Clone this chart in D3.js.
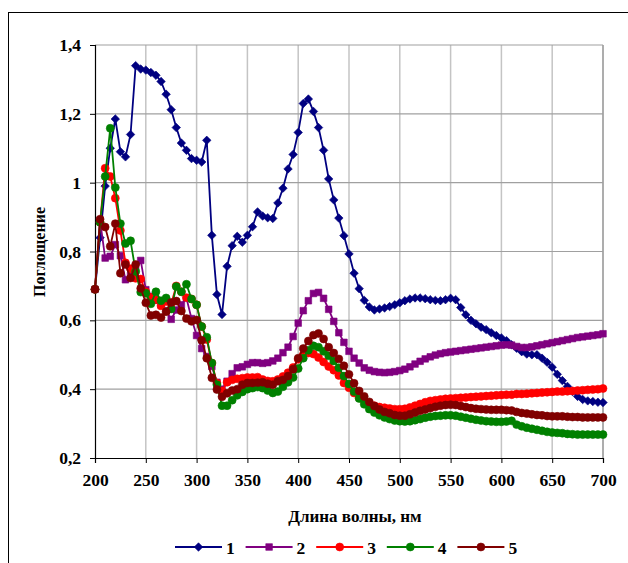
<!DOCTYPE html>
<html>
<head>
<meta charset="utf-8">
<script src="https://cdn.jsdelivr.net/npm/d3@7"></script>
<style>
  body { margin: 0; background: #fff; }
  text { font-family: "Liberation Serif", "Times New Roman", serif; font-weight: bold; fill: #000; }
</style>
</head>
<body>
<div id="chart"></div>
<script>
var margin = {left: 95, top: 45, right: 25, bottom: 105},
    width = 628 - margin.left - margin.right,
    height = 563 - margin.top - margin.bottom;

var wavelengths = [200, 205, 210, 215, 220, 225, 230, 235, 240, 245,
    250, 255, 260, 265, 270, 275, 280, 285, 290, 295,
    300, 305, 310, 315, 320, 325, 330, 335, 340, 345,
    350, 355, 360, 365, 370, 375, 380, 385, 390, 395,
    400, 405, 410, 415, 420, 425, 430, 435, 440, 445,
    450, 455, 460, 465, 470, 475, 480, 485, 490, 495,
    500, 505, 510, 515, 520, 525, 530, 535, 540, 545,
    550, 555, 560, 565, 570, 575, 580, 585, 590, 595,
    600, 605, 610, 615, 620, 625, 630, 635, 640, 645,
    650, 655, 660, 665, 670, 675, 680, 685, 690, 695,
    700];

var s1 = [0.69, 0.84, 0.99, 1.10, 1.185, 1.09, 1.075, 1.14, 1.34, 1.33,
    1.327, 1.32, 1.312, 1.294, 1.257, 1.212, 1.16, 1.115, 1.094, 1.07,
    1.065, 1.06, 1.123, 0.847, 0.675, 0.617, 0.757, 0.817, 0.844, 0.827,
    0.847, 0.872, 0.915, 0.903, 0.898, 0.896, 0.941, 0.984, 1.04, 1.082,
    1.146, 1.23, 1.243, 1.207, 1.16, 1.094, 1.011, 0.95, 0.897, 0.846,
    0.793, 0.737, 0.692, 0.658, 0.639, 0.63, 0.633, 0.636, 0.64, 0.645,
    0.651, 0.657, 0.662, 0.665, 0.665, 0.663, 0.66, 0.658, 0.657, 0.66,
    0.664, 0.66, 0.637, 0.616, 0.6, 0.59, 0.58, 0.573, 0.564, 0.556,
    0.549, 0.541, 0.529, 0.519, 0.509, 0.502, 0.5, 0.5, 0.49, 0.478,
    0.464, 0.443, 0.425, 0.408, 0.393, 0.379, 0.37, 0.366, 0.364, 0.362,
    0.361];

var s2 = [0.69, 0.89, 0.781, 0.786, 0.82, 0.788, 0.718, 0.73, 0.745, 0.774,
    0.689, 0.67, 0.658, 0.645, 0.628, 0.603, 0.63, 0.645, 0.665, 0.605,
    0.556, 0.518, 0.495, 0.466, 0.42, 0.4, 0.423, 0.445, 0.462, 0.465,
    0.472, 0.477, 0.477, 0.475, 0.477, 0.482, 0.49, 0.506, 0.522, 0.553,
    0.592, 0.628, 0.657, 0.678, 0.681, 0.664, 0.632, 0.597, 0.564, 0.536,
    0.51, 0.49, 0.476, 0.462, 0.455, 0.451, 0.449, 0.448, 0.449, 0.451,
    0.454, 0.458, 0.465, 0.473, 0.481, 0.488, 0.494, 0.499, 0.503, 0.506,
    0.508, 0.51, 0.512, 0.514, 0.516, 0.518, 0.52, 0.522, 0.524, 0.526,
    0.528, 0.529, 0.528, 0.524, 0.521, 0.521, 0.523, 0.526, 0.529, 0.532,
    0.535, 0.538, 0.541, 0.544, 0.547, 0.55, 0.552, 0.554, 0.556, 0.558,
    0.561];

var s3 = [0.69, 0.885, 1.042, 1.018, 0.955, 0.861, 0.767, 0.75, 0.722, 0.72,
    0.683, 0.667, 0.66, 0.642, 0.655, 0.648, 0.7, 0.683, 0.666, 0.662,
    0.645, 0.582, 0.544, 0.476, 0.418, 0.395, 0.42, 0.427, 0.43, 0.432,
    0.434, 0.434, 0.435, 0.428, 0.424, 0.423, 0.428, 0.437, 0.448, 0.463,
    0.487, 0.5, 0.505, 0.502, 0.492, 0.479, 0.466, 0.455, 0.44, 0.418,
    0.404, 0.389, 0.375, 0.366, 0.358, 0.352, 0.348, 0.346, 0.344, 0.342,
    0.342, 0.343, 0.347, 0.352, 0.357, 0.362, 0.366, 0.368, 0.37, 0.372,
    0.373, 0.374, 0.375, 0.376, 0.377, 0.378, 0.379, 0.38, 0.381, 0.382,
    0.383, 0.384, 0.384, 0.386, 0.386, 0.387, 0.388, 0.389, 0.39, 0.391,
    0.392, 0.393, 0.393, 0.394, 0.395, 0.396, 0.397, 0.398, 0.399, 0.4,
    0.402];

var s4 = [0.69, 0.885, 1.018, 1.158, 0.986, 0.881, 0.823, 0.831, 0.742, 0.682,
    0.679, 0.648, 0.683, 0.657, 0.665, 0.633, 0.698, 0.683, 0.705, 0.662,
    0.645, 0.582, 0.551, 0.476, 0.413, 0.352, 0.352, 0.368, 0.382, 0.392,
    0.4, 0.403, 0.406, 0.403, 0.396, 0.389, 0.393, 0.407, 0.42, 0.434,
    0.46, 0.49, 0.513, 0.526, 0.522, 0.51, 0.497, 0.482, 0.462, 0.438,
    0.415, 0.393, 0.373, 0.356, 0.342, 0.332, 0.324, 0.318, 0.313, 0.309,
    0.307, 0.306, 0.307, 0.31, 0.313, 0.317, 0.32, 0.322, 0.323, 0.324,
    0.324, 0.323, 0.32, 0.317, 0.314, 0.311, 0.309, 0.307, 0.306, 0.305,
    0.305, 0.306, 0.308, 0.297, 0.292, 0.288, 0.285, 0.282, 0.279, 0.276,
    0.274, 0.273, 0.272, 0.27, 0.269, 0.268, 0.268, 0.268, 0.268, 0.268,
    0.268];

var s5 = [0.69, 0.894, 0.871, 0.815, 0.881, 0.737, 0.762, 0.723, 0.762, 0.693,
    0.651, 0.614, 0.616, 0.608, 0.625, 0.652, 0.656, 0.627, 0.605, 0.597,
    0.601, 0.542, 0.49, 0.433, 0.399, 0.378, 0.388, 0.396, 0.4, 0.413,
    0.418, 0.418, 0.419, 0.42, 0.416, 0.413, 0.423, 0.427, 0.438, 0.458,
    0.49, 0.518, 0.54, 0.557, 0.562, 0.546, 0.522, 0.505, 0.488, 0.468,
    0.443, 0.417, 0.395, 0.379, 0.363, 0.351, 0.341, 0.334, 0.33, 0.325,
    0.323, 0.323, 0.327, 0.332, 0.337, 0.341, 0.345, 0.349, 0.352, 0.354,
    0.355, 0.354, 0.351, 0.348, 0.345, 0.343, 0.342, 0.341, 0.34, 0.34,
    0.34, 0.339, 0.338, 0.334, 0.331, 0.329, 0.327, 0.325, 0.324, 0.322,
    0.321, 0.321, 0.321, 0.32, 0.319, 0.319, 0.318, 0.318, 0.318, 0.318,
    0.318];

var seriesNames = ['1', '2', '3', '4', '5'],
    seriesValues = [s1, s2, s3, s4, s5],
    colors = ['#000080', '#800080', '#ff0000', '#008000', '#800000'],
    markers = ['diamond', 'square', 'circle', 'circle', 'circle'];

var xTicks = [200, 250, 300, 350, 400, 450, 500, 550, 600, 650, 700],
    yTicks = [0.2, 0.4, 0.6, 0.8, 1.0, 1.2, 1.4];

var xTitle = 'Длина волны, нм',
    yTitle = 'Поглощение';

var svg = d3.select('#chart').append('svg')
    .attr('width', 628)
    .attr('height', 563);

// outer chart frame, runs off the right and bottom edges
svg.append('rect')
    .attr('x', 8.5).attr('y', 12.5)
    .attr('width', 700).attr('height', 700)
    .style('fill', 'none')
    .style('stroke', '#000');

var g = svg.append('g')
    .attr('transform', 'translate(' + margin.left + ',' + margin.top + ')');

var x = d3.scaleLinear().domain([200, 700]).range([0, width]);
var y = d3.scaleLinear().domain([0.2, 1.4]).range([height, 0]);

function fmt(v) { return (+v.toFixed(1)).toString().replace('.', ','); }

// grid
g.selectAll('line.vgrid')
    .data(xTicks.slice(1))
    .enter().append('line')
    .attr('class', 'vgrid')
    .attr('x1', function(d) { return x(d); }).attr('x2', function(d) { return x(d); })
    .attr('y1', 0).attr('y2', height)
    .style('stroke', '#c4c4c4')
    .style('stroke-width', 1.5);

g.selectAll('line.hgrid')
    .data(yTicks.slice(1))
    .enter().append('line')
    .attr('class', 'hgrid')
    .attr('x1', 0).attr('x2', width)
    .attr('y1', function(d) { return y(d); }).attr('y2', function(d) { return y(d); })
    .style('stroke', '#a0a0a0')
    .style('stroke-width', 1.2);

g.append('line')
    .attr('x1', width).attr('x2', width).attr('y1', 0).attr('y2', height)
    .style('stroke', '#a0a0a0').style('stroke-width', 1.5);

// axes
var xAxis = g.append('g')
    .attr('transform', 'translate(0,' + height + ')')
    .call(d3.axisBottom(x).tickValues(xTicks).tickSize(5).tickPadding(11).tickFormat(d3.format('d')));

var yAxis = g.append('g')
    .call(d3.axisLeft(y).tickValues(yTicks).tickSize(5).tickPadding(9).tickFormat(fmt));

[xAxis, yAxis].forEach(function(a) {
    a.select('.domain').style('stroke', '#000').style('stroke-width', 1.2);
    a.selectAll('.tick line').style('stroke', '#000');
    a.selectAll('text')
        .style('font-family', '"Liberation Serif", "Times New Roman", serif')
        .style('font-weight', 'bold')
        .style('font-size', '17.5px')
        .style('fill', '#000');
});

svg.append('text')
    .attr('x', 355)
    .attr('y', 522)
    .attr('text-anchor', 'middle')
    .style('font-size', '17px')
    .text(xTitle);

svg.append('text')
    .attr('transform', 'translate(45,252) rotate(-90)')
    .attr('text-anchor', 'middle')
    .style('font-size', '16px')
    .text(yTitle);

function marker(sel, type, color) {
    if (type === 'diamond') {
        sel.attr('d', d3.symbol().type(d3.symbolSquare).size(36)());
    } else if (type === 'square') {
        sel.attr('d', d3.symbol().type(d3.symbolSquare).size(44)());
    } else {
        sel.attr('d', d3.symbol().type(d3.symbolCircle).size(50)());
    }
    sel.style('fill', color).style('stroke', color).style('stroke-width', 0.6);
}

var line = d3.line()
    .x(function(d) { return x(d[0]); })
    .y(function(d) { return y(d[1]); });

seriesValues.forEach(function(vals, i) {
    var pts = wavelengths.map(function(w, j) { return [w, vals[j]]; });
    var sg = g.append('g').attr('class', 'series');

    sg.append('path')
        .datum(pts)
        .attr('d', line)
        .style('fill', 'none')
        .style('stroke', colors[i])
        .style('stroke-width', 1.8);

    sg.selectAll('path.pt')
        .data(pts)
        .enter().append('path')
        .attr('class', 'pt')
        .call(marker, markers[i], colors[i])
        .attr('transform', function(d) {
            return 'translate(' + x(d[0]) + ',' + y(d[1]) + ')' + (markers[i] === 'diamond' ? ' rotate(45)' : '');
        });
});

// legend
var legend = svg.append('g').attr('transform', 'translate(175,547)');

seriesNames.forEach(function(name, i) {
    var lg = legend.append('g').attr('transform', 'translate(' + (i * 70.6) + ',0)');
    lg.append('line')
        .attr('x1', 0).attr('x2', 47).attr('y1', 0).attr('y2', 0)
        .style('stroke', colors[i]).style('stroke-width', 1.8);
    lg.append('path')
        .call(marker, markers[i], colors[i])
        .attr('transform', 'translate(23.5,0)' + (markers[i] === 'diamond' ? ' rotate(45)' : ''));
    lg.append('text')
        .attr('x', 51)
        .attr('y', 6.5)
        .style('font-size', '17.5px')
        .text(name);
});
</script>
</body>
</html>
